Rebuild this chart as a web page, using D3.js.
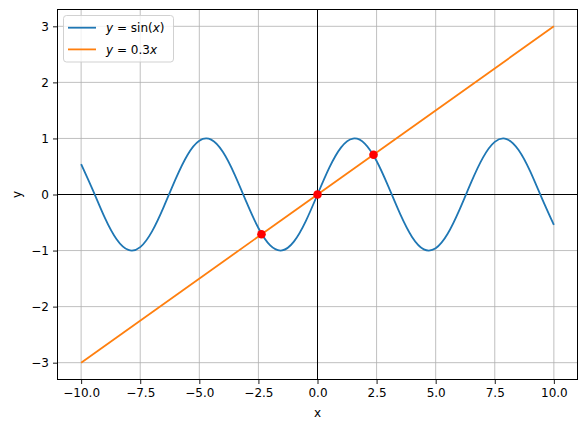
<!DOCTYPE html>
<html><head><meta charset="utf-8">
<script src="https://cdn.jsdelivr.net/npm/d3@7"></script>
<style>body{margin:0;background:#fff}svg text{font-family:"DejaVu Sans",sans-serif;fill:#000}</style>
</head><body><svg id="c" width="587" height="430"></svg>
<script>
const sinX = [-10,-9.5,-9,-8.5,-8,-7.5,-7,-6.5,-6,-5.5,-5,-4.5,-4,-3.5,-3,-2.5,-2,-1.5,-1,-0.5,0,0.5,1,1.5,2,2.5,3,3.5,4,4.5,5,5.5,6,6.5,7,7.5,8,8.5,9,9.5,10];
const sinY = [0.544,0.075,-0.412,-0.798,-0.989,-0.938,-0.657,-0.215,0.279,0.706,0.959,0.978,0.757,0.351,-0.141,-0.598,-0.909,-0.997,-0.841,-0.479,0,0.479,0.841,0.997,0.909,0.598,0.141,-0.351,-0.757,-0.978,-0.959,-0.706,-0.279,0.215,0.657,0.938,0.989,0.798,0.412,-0.075,-0.544];
const lineX = [-10,10];
const lineY = [-3,3];
const crossX = [-2.37,0,2.37];
const crossY = [-0.71,0,0.71];
const xTicks = [-10,-7.5,-5,-2.5,0,2.5,5,7.5,10];
const yTicks = [-3,-2,-1,0,1,2,3];

const svg = d3.select("#c");
const L=57.5,R=577.5,T=9.5,B=379.5;
const x = d3.scaleLinear().domain([-11,11]).range([L,R]);
const y = d3.scaleLinear().domain([-3.3,3.3]).range([B,T]);

// grid
const g = svg.append("g");
g.selectAll(".gx").data(xTicks).join("line").attr("x1",d=>x(d)).attr("x2",d=>x(d)).attr("y1",T).attr("y2",B).attr("stroke","#b0b0b0").attr("stroke-width",0.8);
g.selectAll(".gy").data(yTicks).join("line").attr("y1",d=>y(d)).attr("y2",d=>y(d)).attr("x1",L).attr("x2",R).attr("stroke","#b0b0b0").attr("stroke-width",0.8);
// zero lines
svg.append("line").attr("x1",x(0)).attr("x2",x(0)).attr("y1",T).attr("y2",B).attr("stroke","#000").attr("stroke-width",1);
svg.append("line").attr("y1",y(0)).attr("y2",y(0)).attr("x1",L).attr("x2",R).attr("stroke","#000").attr("stroke-width",1);

// series
const clip = svg.append("clipPath").attr("id","cp").append("rect").attr("x",L).attr("y",T).attr("width",R-L).attr("height",B-T);
const sinData = sinX.map((v,i)=>[v,sinY[i]]);
svg.append("path").datum(sinData).attr("clip-path","url(#cp)")
  .attr("d",d3.line().x(d=>x(d[0])).y(d=>y(d[1])).curve(d3.curveNatural))
  .attr("fill","none").attr("stroke","#1f77b4").attr("stroke-width",1.8);
const linData = lineX.map((v,i)=>[v,lineY[i]]);
svg.append("path").datum(linData)
  .attr("d",d3.line().x(d=>x(d[0])).y(d=>y(d[1])))
  .attr("fill","none").attr("stroke","#ff7f0e").attr("stroke-width",1.8);
svg.selectAll(".pt").data(crossX.map((v,i)=>[v,crossY[i]])).join("circle")
  .attr("cx",d=>x(d[0])).attr("cy",d=>y(d[1])).attr("r",4.3).attr("fill","#ff0000");

// axes
const fmtX = d3.format(".1f");
svg.append("g").attr("transform",`translate(0,${B})`)
  .call(d3.axisBottom(x).tickValues(xTicks).tickFormat(fmtX).tickSize(4.5).tickPadding(4))
  .call(a=>{a.select(".domain").remove();a.selectAll("text").attr("font-size",12).attr("font-family","DejaVu Sans");a.selectAll("line").attr("stroke-width",0.9);});
svg.append("g").attr("transform",`translate(${L},0)`)
  .call(d3.axisLeft(y).tickValues(yTicks).tickFormat(d3.format("d")).tickSize(4.5).tickPadding(4))
  .call(a=>{a.select(".domain").remove();a.selectAll("text").attr("font-size",12).attr("font-family","DejaVu Sans");a.selectAll("line").attr("stroke-width",0.9);});
svg.append("rect").attr("x",L).attr("y",T).attr("width",R-L).attr("height",B-T).attr("fill","none").attr("stroke","#000").attr("stroke-width",1);

svg.append("text").attr("x",(L+R)/2).attr("y",417).attr("text-anchor","middle").attr("font-size",12).text("x");
svg.append("text").attr("transform",`translate(21,${(T+B)/2}) rotate(-90)`).attr("text-anchor","middle").attr("font-size",12).text("y");

// legend
const legend = [{c:"#1f77b4",parts:[["y","italic"],[" = sin(","normal"],["x","italic"],[")","normal"]]},
                {c:"#ff7f0e",parts:[["y","italic"],[" = 0.3","normal"],["x","italic"]]}];
svg.append("rect").attr("x",63.5).attr("y",15.5).attr("width",110).attr("height",46.5).attr("rx",3)
  .attr("fill","#fff").attr("fill-opacity",0.8).attr("stroke","#cccccc").attr("stroke-width",0.9);
legend.forEach((l,i)=>{
  const yy = 27.7 + i*21.7;
  svg.append("line").attr("x1",68).attr("x2",96).attr("y1",yy).attr("y2",yy).attr("stroke",l.c).attr("stroke-width",1.8);
  const t = svg.append("text").attr("x",106).attr("y",yy+4.3).attr("font-size",12).attr("xml:space","preserve");
  l.parts.forEach(p=>t.append("tspan").attr("font-style",p[1]).text(p[0]));
});
</script></body></html>
